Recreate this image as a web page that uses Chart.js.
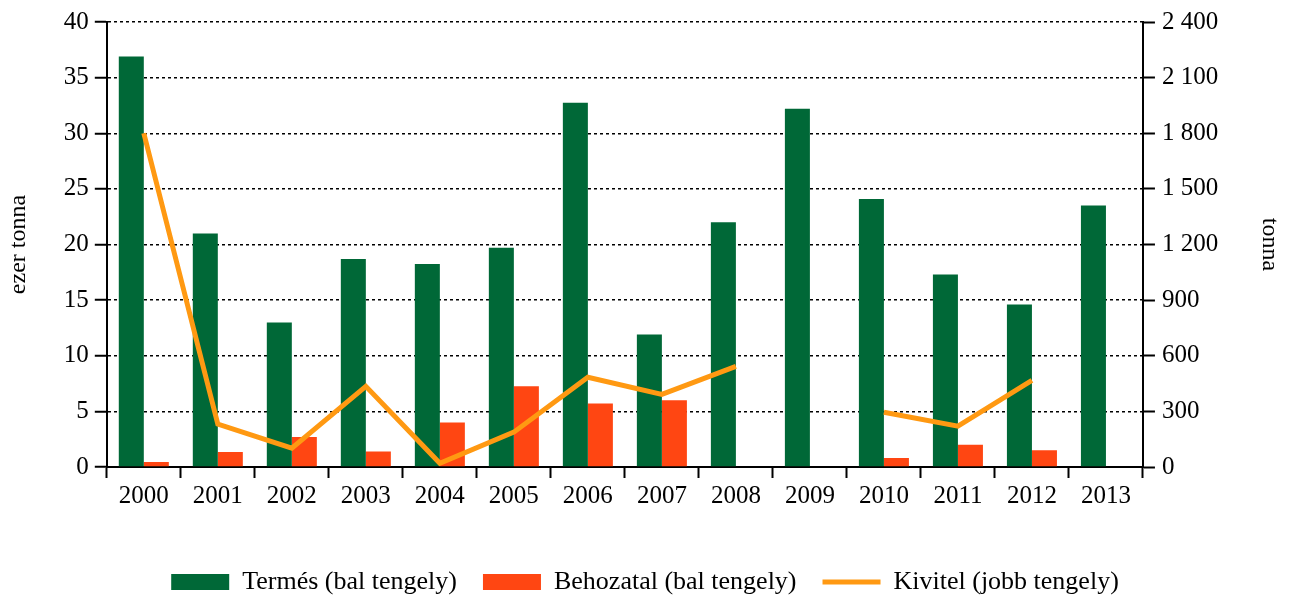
<!doctype html>
<html lang="hu">
<head>
  <meta charset="utf-8">
  <title>Termés, behozatal, kivitel</title>
  <style>
    * { margin: 0; padding: 0; }
    body { background: white; }
    .chartBox { width: 1290px; height: 601px; position: relative; }
  </style>
</head>
<body>
<div class="chartBox">
  <canvas id="myChart"></canvas>
</div>

<script src="https://cdn.jsdelivr.net/npm/chart.js"></script>
<script>
  // adatok
  const years = ['2000', '2001', '2002', '2003', '2004', '2005', '2006', '2007', '2008', '2009', '2010', '2011', '2012', '2013'];
  const termes = [36.9, 21.0, 13.0, 18.7, 18.25, 19.7, 32.75, 11.9, 22.0, 32.2, 24.1, 17.3, 14.6, 23.5];
  const behozatal = [0.45, 1.35, 2.7, 1.4, 4.0, 7.25, 5.7, 6.0, 0, 0, 0.8, 2.0, 1.5, 0];
  const kivitel = [1800, 231, 102, 435, 20, 188, 484, 392, 543, null, 295, 220, 467, null];

  const seriesNames = ['Termés (bal tengely)', 'Behozatal (bal tengely)', 'Kivitel (jobb tengely)'];
  const leftTitle = 'ezer tonna';
  const rightTitle = 'tonna';

  Chart.defaults.font.family = "'Liberation Serif', 'Times New Roman', serif";
  Chart.defaults.font.size = 25;
  Chart.defaults.color = '#000';

  // ezres tagolás szóközzel
  function fmt(v) {
    return String(v).replace(/\B(?=(\d{3})+(?!\d))/g, ' ');
  }

  const data = {
    labels: years,
    datasets: [
      {
        label: seriesNames[0],
        type: 'bar',
        data: termes,
        backgroundColor: '#006837',
        borderWidth: 0,
        pointStyle: 'rect',
        yAxisID: 'y',
        order: 1,
        categoryPercentage: 0.676,
        barPercentage: 1.0
      },
      {
        label: seriesNames[1],
        type: 'bar',
        data: behozatal,
        backgroundColor: '#FF4612',
        borderWidth: 0,
        pointStyle: 'rect',
        yAxisID: 'y',
        order: 1,
        categoryPercentage: 0.676,
        barPercentage: 1.0
      },
      {
        label: seriesNames[2],
        type: 'line',
        data: kivitel,
        borderColor: '#FF9912',
        backgroundColor: '#FF9912',
        borderWidth: 5,
        pointRadius: 0,
        pointStyle: 'line',
        tension: 0,
        spanGaps: false,
        yAxisID: 'y1',
        order: 0
      }
    ]
  };

  const config = {
    type: 'bar',
    data,
    options: {
      responsive: true,
      maintainAspectRatio: false,
      animation: false,
      layout: { padding: { top: 20, bottom: -4, left: 0, right: 0 } },
      scales: {
        x: {
          grid: {
            offset: true,
            drawOnChartArea: false,
            tickLength: 11,
            tickWidth: 2,
            tickColor: '#000'
          },
          border: { display: true, color: '#000', width: 2 },
          ticks: { padding: 3, color: '#000', maxRotation: 0 },
          afterFit: (scale) => { scale.height += 29; }
        },
        y: {
          position: 'left',
          min: 0,
          max: 40,
          ticks: { stepSize: 5, padding: 6, color: '#000' },
          grid: {
            color: '#000',
            lineWidth: 1.5,
            tickLength: 12,
            tickWidth: 2,
            tickColor: '#000'
          },
          border: { display: true, color: '#000', width: 2, dash: [3, 3] },
          title: {
            display: true,
            text: leftTitle,
            color: '#000',
            font: { size: 24 },
            padding: { top: 4, bottom: 25 }
          }
        },
        y1: {
          position: 'right',
          min: 0,
          max: 2400,
          ticks: { stepSize: 300, padding: 7, color: '#000', callback: (v) => fmt(v) },
          grid: {
            drawOnChartArea: false,
            tickLength: 12,
            tickWidth: 2,
            tickColor: '#000'
          },
          border: { display: true, color: '#000', width: 2 },
          title: {
            display: true,
            text: rightTitle,
            color: '#000',
            font: { size: 24 },
            padding: { top: 6, bottom: 30 }
          }
        }
      },
      plugins: {
        legend: {
          display: true,
          position: 'bottom',
          labels: {
            color: '#000',
            font: { size: 26 },
            usePointStyle: true,
            pointStyleWidth: 58,
            boxHeight: 16,
            padding: 26,
            sort: (a, b) => a.datasetIndex - b.datasetIndex
          }
        },
        tooltip: { enabled: false }
      }
    }
  };

  const myChart = new Chart(document.getElementById('myChart'), config);
</script>
</body>
</html>
